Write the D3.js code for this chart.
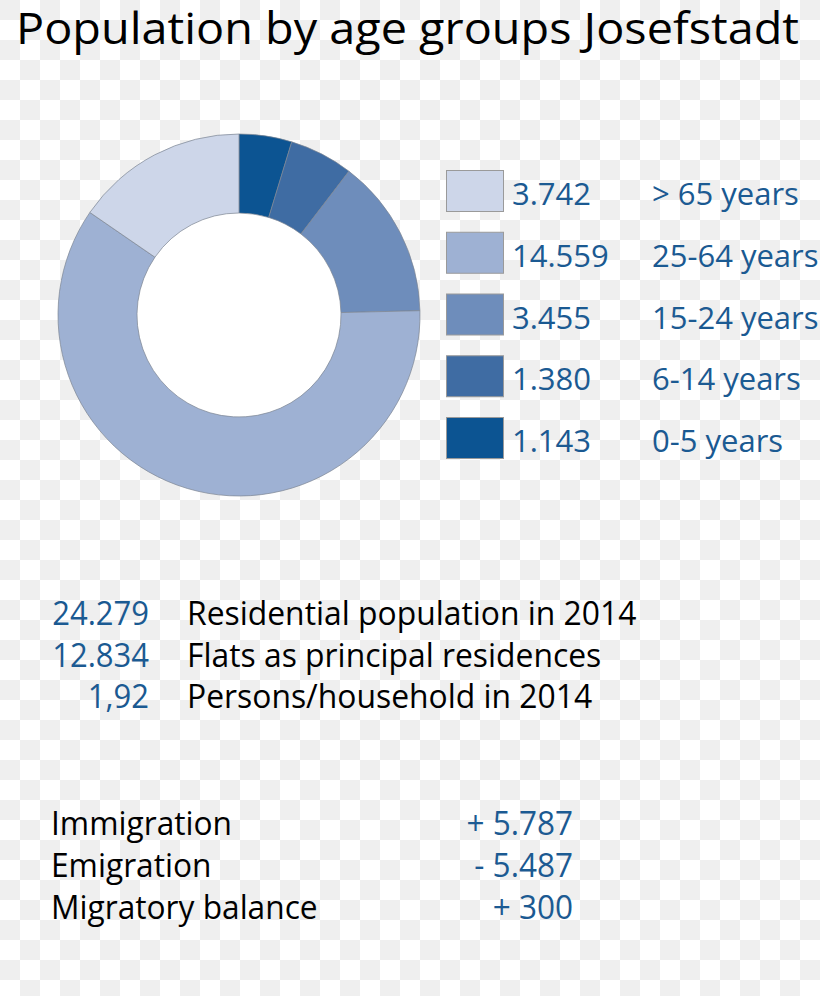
<!DOCTYPE html>
<html>
<head>
<meta charset="utf-8">
<script src="https://cdn.jsdelivr.net/npm/d3@7"></script>
<style>
  html, body { margin: 0; padding: 0; background: #fff; }
  svg { display: block; }
  text { font-family: "Open Sans", "Noto Sans", sans-serif; }
</style>
</head>
<body>
<svg id="chart" width="820" height="996"></svg>
<script>
// ---- data ----
const title = "Population by age groups Josefstadt";
const ageGroups = ["> 65 years", "25-64 years", "15-24 years", "6-14 years", "0-5 years"];
const ageValues = [3742, 14559, 3455, 1380, 1143];
const ageValueLabels = ["3.742", "14.559", "3.455", "1.380", "1.143"];
const ageColors = ["#cdd6e9", "#9eb1d3", "#6e8dbb", "#3f6ca3", "#0c5492"];

const statValues = ["24.279", "12.834", "1,92"];
const statLabels = ["Residential population in 2014", "Flats as principal residences", "Persons/household in 2014"];

const migLabels = ["Immigration", "Emigration", "Migratory balance"];
const migValues = ["+ 5.787", "- 5.487", "+ 300"];

// ---- drawing ----
const svg = d3.select("#chart");
const W = 820, H = 996;
const blue = "#1b5a92";

// checkerboard background
const defs = svg.append("defs");
const pat = defs.append("pattern").attr("id", "checker")
  .attr("width", 40).attr("height", 40).attr("patternUnits", "userSpaceOnUse");
pat.append("rect").attr("width", 40).attr("height", 40).attr("fill", "#ffffff");
pat.append("rect").attr("x", 0).attr("y", 0).attr("width", 20).attr("height", 20).attr("fill", "#efefef");
pat.append("rect").attr("x", 20).attr("y", 20).attr("width", 20).attr("height", 20).attr("fill", "#efefef");
svg.append("rect").attr("width", W).attr("height", H).attr("fill", "url(#checker)");

function condense(k) {
  return sel => sel.each(function () {
    const w = this.getComputedTextLength();
    d3.select(this).attr("textLength", w * k).attr("lengthAdjust", "spacingAndGlyphs");
  });
}

// title
svg.append("text").attr("x", 16).attr("y", 44)
  .attr("font-size", 44).attr("fill", "#000")
  .attr("textLength", 783).attr("lengthAdjust", "spacingAndGlyphs")
  .text(title);

// donut
const cx = 239, cy = 315, rOuter = 181, rInner = 102;
const pieData = ageGroups.map((g, i) => ({ group: g, value: ageValues[i], color: ageColors[i] })).reverse();
const pie = d3.pie().sort(null).value(d => d.value);
const arc = d3.arc().innerRadius(rInner).outerRadius(rOuter);
const g = svg.append("g").attr("transform", `translate(${cx},${cy})`);
g.append("circle").attr("r", rInner).attr("fill", "#fff");
g.selectAll("path").data(pie(pieData)).join("path")
  .attr("d", arc)
  .attr("fill", d => d.data.color)
  .attr("stroke", "#7d8592")
  .attr("stroke-width", 0.7);

// legend
const legY = d3.scalePoint().domain(ageGroups).range([191, 438]);
const leg = svg.append("g");
const rows = leg.selectAll("g").data(ageGroups).join("g")
  .attr("transform", d => `translate(0,${legY(d)})`);
rows.append("rect")
  .attr("x", 446.5).attr("y", -20.5).attr("width", 57).attr("height", 41)
  .attr("fill", (d, i) => ageColors[i])
  .attr("stroke", "#9a9a9a").attr("stroke-width", 1);
rows.append("text").attr("x", 512).attr("y", 14)
  .attr("font-size", 31).attr("fill", blue)
  .text((d, i) => ageValueLabels[i]);
rows.append("text").attr("x", 652).attr("y", 14)
  .attr("font-size", 31).attr("fill", blue)
  .text(d => d);

// stats block
const statY = d3.scalePoint().domain(d3.range(statValues.length)).range([625, 708]);
const st = svg.append("g");
st.selectAll("text.v").data(statValues).join("text").attr("class", "v")
  .attr("x", 149).attr("y", (d, i) => statY(i))
  .attr("text-anchor", "end").attr("font-size", 33).attr("fill", blue)
  .text(d => d).call(condense(0.94));
st.selectAll("text.l").data(statLabels).join("text").attr("class", "l")
  .attr("x", 187).attr("y", (d, i) => statY(i))
  .attr("font-size", 33).attr("fill", "#000")
  .text(d => d).call(condense(0.965));

// migration block
const migY = d3.scalePoint().domain(d3.range(migLabels.length)).range([835, 919]);
const mg = svg.append("g");
mg.selectAll("text.l").data(migLabels).join("text").attr("class", "l")
  .attr("x", 51).attr("y", (d, i) => migY(i))
  .attr("font-size", 33).attr("fill", "#000")
  .text(d => d).call(condense(0.96));
mg.selectAll("text.v").data(migValues).join("text").attr("class", "v")
  .attr("x", 573).attr("y", (d, i) => migY(i))
  .attr("text-anchor", "end").attr("font-size", 33).attr("fill", blue)
  .text(d => d).call(condense(0.955));
</script>
</body>
</html>
